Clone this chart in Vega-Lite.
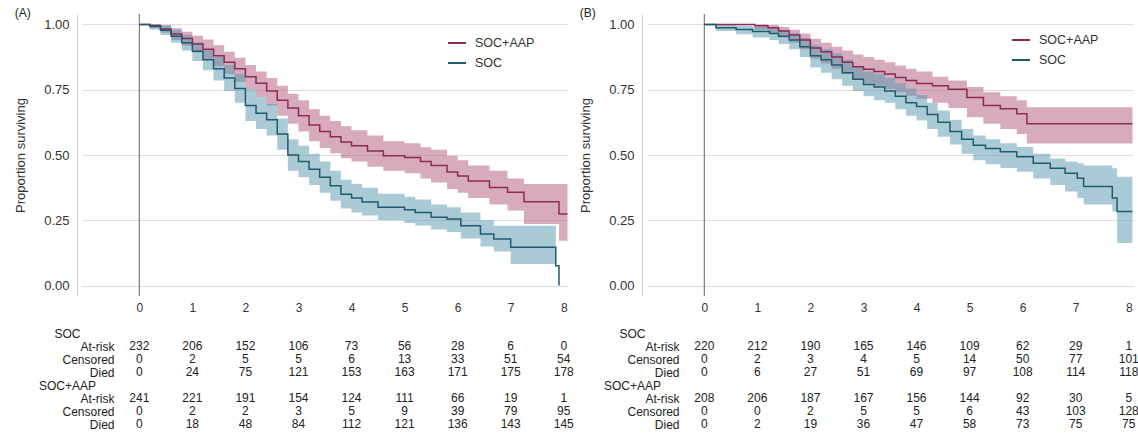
{
  "$schema": "https://vega.github.io/schema/vega-lite/v6.json",
  "background": "white",
  "padding": {"left": 14, "top": 6, "right": 0, "bottom": 0},
  "config": {"font": "Liberation Sans", "view": {"stroke": null}},
  "datasets": {
    "km": [
      {"p":"A","g":"SOC+AAP","t":0,"s":1,"lo":1,"hi":1},
      {"p":"A","g":"SOC+AAP","t":0.2,"s":0.996,"lo":0.988,"hi":1},
      {"p":"A","g":"SOC+AAP","t":0.4,"s":0.983,"lo":0.968,"hi":0.998},
      {"p":"A","g":"SOC+AAP","t":0.6,"s":0.963,"lo":0.94,"hi":0.985},
      {"p":"A","g":"SOC+AAP","t":0.8,"s":0.946,"lo":0.918,"hi":0.972},
      {"p":"A","g":"SOC+AAP","t":1.0,"s":0.925,"lo":0.893,"hi":0.957},
      {"p":"A","g":"SOC+AAP","t":1.2,"s":0.905,"lo":0.868,"hi":0.942},
      {"p":"A","g":"SOC+AAP","t":1.4,"s":0.88,"lo":0.84,"hi":0.92},
      {"p":"A","g":"SOC+AAP","t":1.6,"s":0.855,"lo":0.81,"hi":0.895},
      {"p":"A","g":"SOC+AAP","t":1.8,"s":0.83,"lo":0.78,"hi":0.872},
      {"p":"A","g":"SOC+AAP","t":2.0,"s":0.8,"lo":0.75,"hi":0.845},
      {"p":"A","g":"SOC+AAP","t":2.2,"s":0.775,"lo":0.72,"hi":0.82},
      {"p":"A","g":"SOC+AAP","t":2.4,"s":0.745,"lo":0.69,"hi":0.795},
      {"p":"A","g":"SOC+AAP","t":2.6,"s":0.71,"lo":0.65,"hi":0.765},
      {"p":"A","g":"SOC+AAP","t":2.8,"s":0.68,"lo":0.62,"hi":0.735},
      {"p":"A","g":"SOC+AAP","t":3.0,"s":0.65,"lo":0.59,"hi":0.71},
      {"p":"A","g":"SOC+AAP","t":3.2,"s":0.615,"lo":0.553,"hi":0.675},
      {"p":"A","g":"SOC+AAP","t":3.4,"s":0.59,"lo":0.527,"hi":0.65},
      {"p":"A","g":"SOC+AAP","t":3.6,"s":0.57,"lo":0.507,"hi":0.63},
      {"p":"A","g":"SOC+AAP","t":3.8,"s":0.55,"lo":0.488,"hi":0.61},
      {"p":"A","g":"SOC+AAP","t":4.0,"s":0.535,"lo":0.475,"hi":0.595},
      {"p":"A","g":"SOC+AAP","t":4.3,"s":0.515,"lo":0.455,"hi":0.575},
      {"p":"A","g":"SOC+AAP","t":4.6,"s":0.497,"lo":0.44,"hi":0.553},
      {"p":"A","g":"SOC+AAP","t":5.0,"s":0.49,"lo":0.43,"hi":0.545},
      {"p":"A","g":"SOC+AAP","t":5.3,"s":0.475,"lo":0.41,"hi":0.53},
      {"p":"A","g":"SOC+AAP","t":5.5,"s":0.46,"lo":0.395,"hi":0.52},
      {"p":"A","g":"SOC+AAP","t":5.8,"s":0.435,"lo":0.37,"hi":0.497},
      {"p":"A","g":"SOC+AAP","t":6.0,"s":0.42,"lo":0.355,"hi":0.48},
      {"p":"A","g":"SOC+AAP","t":6.2,"s":0.4,"lo":0.335,"hi":0.46},
      {"p":"A","g":"SOC+AAP","t":6.6,"s":0.376,"lo":0.31,"hi":0.44},
      {"p":"A","g":"SOC+AAP","t":6.94,"s":0.357,"lo":0.287,"hi":0.41},
      {"p":"A","g":"SOC+AAP","t":7.25,"s":0.321,"lo":0.236,"hi":0.389},
      {"p":"A","g":"SOC+AAP","t":7.91,"s":0.274,"lo":0.172,"hi":0.389},
      {"p":"A","g":"SOC+AAP","t":8.07,"s":0.274,"lo":0.172,"hi":0.389},

      {"p":"A","g":"SOC","t":0,"s":1,"lo":1,"hi":1},
      {"p":"A","g":"SOC","t":0.2,"s":0.992,"lo":0.98,"hi":1},
      {"p":"A","g":"SOC","t":0.4,"s":0.978,"lo":0.96,"hi":0.995},
      {"p":"A","g":"SOC","t":0.6,"s":0.955,"lo":0.93,"hi":0.98},
      {"p":"A","g":"SOC","t":0.8,"s":0.93,"lo":0.9,"hi":0.96},
      {"p":"A","g":"SOC","t":1.0,"s":0.897,"lo":0.86,"hi":0.932},
      {"p":"A","g":"SOC","t":1.2,"s":0.865,"lo":0.825,"hi":0.905},
      {"p":"A","g":"SOC","t":1.4,"s":0.83,"lo":0.785,"hi":0.875},
      {"p":"A","g":"SOC","t":1.6,"s":0.795,"lo":0.745,"hi":0.845},
      {"p":"A","g":"SOC","t":1.8,"s":0.755,"lo":0.7,"hi":0.81},
      {"p":"A","g":"SOC","t":2.0,"s":0.69,"lo":0.63,"hi":0.75},
      {"p":"A","g":"SOC","t":2.2,"s":0.66,"lo":0.6,"hi":0.72},
      {"p":"A","g":"SOC","t":2.4,"s":0.635,"lo":0.575,"hi":0.695},
      {"p":"A","g":"SOC","t":2.6,"s":0.58,"lo":0.52,"hi":0.64},
      {"p":"A","g":"SOC","t":2.8,"s":0.5,"lo":0.44,"hi":0.56},
      {"p":"A","g":"SOC","t":3.0,"s":0.475,"lo":0.415,"hi":0.535},
      {"p":"A","g":"SOC","t":3.2,"s":0.445,"lo":0.385,"hi":0.505},
      {"p":"A","g":"SOC","t":3.4,"s":0.415,"lo":0.355,"hi":0.475},
      {"p":"A","g":"SOC","t":3.6,"s":0.382,"lo":0.325,"hi":0.44},
      {"p":"A","g":"SOC","t":3.8,"s":0.35,"lo":0.295,"hi":0.405},
      {"p":"A","g":"SOC","t":4.0,"s":0.335,"lo":0.28,"hi":0.39},
      {"p":"A","g":"SOC","t":4.2,"s":0.32,"lo":0.268,"hi":0.375},
      {"p":"A","g":"SOC","t":4.5,"s":0.3,"lo":0.25,"hi":0.352},
      {"p":"A","g":"SOC","t":5.0,"s":0.29,"lo":0.24,"hi":0.34},
      {"p":"A","g":"SOC","t":5.2,"s":0.28,"lo":0.23,"hi":0.33},
      {"p":"A","g":"SOC","t":5.5,"s":0.262,"lo":0.215,"hi":0.31},
      {"p":"A","g":"SOC","t":5.8,"s":0.255,"lo":0.205,"hi":0.3},
      {"p":"A","g":"SOC","t":6.06,"s":0.229,"lo":0.18,"hi":0.28},
      {"p":"A","g":"SOC","t":6.43,"s":0.197,"lo":0.15,"hi":0.25},
      {"p":"A","g":"SOC","t":6.68,"s":0.178,"lo":0.13,"hi":0.229},
      {"p":"A","g":"SOC","t":7.0,"s":0.147,"lo":0.083,"hi":0.229},
      {"p":"A","g":"SOC","t":7.85,"s":0.076,"lo":0.083,"hi":0.229},
      {"p":"A","g":"SOC","t":7.91,"s":0,"lo":null,"hi":null},

      {"p":"B","g":"SOC+AAP","t":0,"s":1,"lo":1,"hi":1},
      {"p":"B","g":"SOC+AAP","t":0.95,"s":0.995,"lo":0.98,"hi":1},
      {"p":"B","g":"SOC+AAP","t":1.2,"s":0.987,"lo":0.968,"hi":0.998},
      {"p":"B","g":"SOC+AAP","t":1.4,"s":0.975,"lo":0.95,"hi":0.99},
      {"p":"B","g":"SOC+AAP","t":1.6,"s":0.96,"lo":0.93,"hi":0.98},
      {"p":"B","g":"SOC+AAP","t":1.8,"s":0.94,"lo":0.905,"hi":0.965},
      {"p":"B","g":"SOC+AAP","t":2.0,"s":0.91,"lo":0.87,"hi":0.945},
      {"p":"B","g":"SOC+AAP","t":2.2,"s":0.895,"lo":0.85,"hi":0.93},
      {"p":"B","g":"SOC+AAP","t":2.4,"s":0.875,"lo":0.83,"hi":0.915},
      {"p":"B","g":"SOC+AAP","t":2.6,"s":0.855,"lo":0.81,"hi":0.9},
      {"p":"B","g":"SOC+AAP","t":2.8,"s":0.838,"lo":0.79,"hi":0.885},
      {"p":"B","g":"SOC+AAP","t":3.0,"s":0.828,"lo":0.775,"hi":0.875},
      {"p":"B","g":"SOC+AAP","t":3.2,"s":0.82,"lo":0.765,"hi":0.865},
      {"p":"B","g":"SOC+AAP","t":3.4,"s":0.81,"lo":0.753,"hi":0.855},
      {"p":"B","g":"SOC+AAP","t":3.6,"s":0.797,"lo":0.74,"hi":0.843},
      {"p":"B","g":"SOC+AAP","t":3.8,"s":0.785,"lo":0.727,"hi":0.83},
      {"p":"B","g":"SOC+AAP","t":4.0,"s":0.774,"lo":0.715,"hi":0.82},
      {"p":"B","g":"SOC+AAP","t":4.3,"s":0.765,"lo":0.7,"hi":0.8},
      {"p":"B","g":"SOC+AAP","t":4.6,"s":0.752,"lo":0.68,"hi":0.785},
      {"p":"B","g":"SOC+AAP","t":4.95,"s":0.72,"lo":0.645,"hi":0.76},
      {"p":"B","g":"SOC+AAP","t":5.26,"s":0.69,"lo":0.62,"hi":0.74},
      {"p":"B","g":"SOC+AAP","t":5.58,"s":0.677,"lo":0.6,"hi":0.725},
      {"p":"B","g":"SOC+AAP","t":5.89,"s":0.658,"lo":0.58,"hi":0.71},
      {"p":"B","g":"SOC+AAP","t":6.08,"s":0.62,"lo":0.544,"hi":0.683},
      {"p":"B","g":"SOC+AAP","t":8.07,"s":0.62,"lo":0.544,"hi":0.683},

      {"p":"B","g":"SOC","t":0,"s":1,"lo":1,"hi":1},
      {"p":"B","g":"SOC","t":0.22,"s":0.987,"lo":0.975,"hi":1},
      {"p":"B","g":"SOC","t":0.6,"s":0.981,"lo":0.962,"hi":0.995},
      {"p":"B","g":"SOC","t":0.91,"s":0.973,"lo":0.95,"hi":0.99},
      {"p":"B","g":"SOC","t":1.23,"s":0.965,"lo":0.94,"hi":0.987},
      {"p":"B","g":"SOC","t":1.4,"s":0.955,"lo":0.925,"hi":0.98},
      {"p":"B","g":"SOC","t":1.6,"s":0.94,"lo":0.905,"hi":0.967},
      {"p":"B","g":"SOC","t":1.8,"s":0.915,"lo":0.875,"hi":0.948},
      {"p":"B","g":"SOC","t":2.0,"s":0.88,"lo":0.835,"hi":0.92},
      {"p":"B","g":"SOC","t":2.2,"s":0.865,"lo":0.815,"hi":0.905},
      {"p":"B","g":"SOC","t":2.4,"s":0.845,"lo":0.79,"hi":0.89},
      {"p":"B","g":"SOC","t":2.6,"s":0.815,"lo":0.765,"hi":0.865},
      {"p":"B","g":"SOC","t":2.8,"s":0.79,"lo":0.745,"hi":0.84},
      {"p":"B","g":"SOC","t":3.0,"s":0.77,"lo":0.725,"hi":0.82},
      {"p":"B","g":"SOC","t":3.2,"s":0.76,"lo":0.71,"hi":0.81},
      {"p":"B","g":"SOC","t":3.4,"s":0.745,"lo":0.7,"hi":0.795},
      {"p":"B","g":"SOC","t":3.6,"s":0.725,"lo":0.675,"hi":0.775},
      {"p":"B","g":"SOC","t":3.8,"s":0.7,"lo":0.65,"hi":0.755},
      {"p":"B","g":"SOC","t":4.0,"s":0.686,"lo":0.632,"hi":0.73},
      {"p":"B","g":"SOC","t":4.2,"s":0.655,"lo":0.6,"hi":0.7},
      {"p":"B","g":"SOC","t":4.4,"s":0.625,"lo":0.57,"hi":0.67},
      {"p":"B","g":"SOC","t":4.63,"s":0.59,"lo":0.54,"hi":0.635},
      {"p":"B","g":"SOC","t":4.85,"s":0.56,"lo":0.505,"hi":0.6},
      {"p":"B","g":"SOC","t":5.07,"s":0.537,"lo":0.48,"hi":0.575},
      {"p":"B","g":"SOC","t":5.3,"s":0.525,"lo":0.465,"hi":0.56},
      {"p":"B","g":"SOC","t":5.58,"s":0.512,"lo":0.45,"hi":0.545},
      {"p":"B","g":"SOC","t":5.89,"s":0.493,"lo":0.436,"hi":0.531},
      {"p":"B","g":"SOC","t":6.2,"s":0.468,"lo":0.41,"hi":0.505},
      {"p":"B","g":"SOC","t":6.52,"s":0.449,"lo":0.385,"hi":0.487},
      {"p":"B","g":"SOC","t":6.8,"s":0.43,"lo":0.36,"hi":0.475},
      {"p":"B","g":"SOC","t":7.03,"s":0.411,"lo":0.335,"hi":0.468},
      {"p":"B","g":"SOC","t":7.15,"s":0.379,"lo":0.31,"hi":0.46},
      {"p":"B","g":"SOC","t":7.69,"s":0.335,"lo":0.284,"hi":0.449},
      {"p":"B","g":"SOC","t":7.78,"s":0.284,"lo":0.163,"hi":0.417},
      {"p":"B","g":"SOC","t":8.07,"s":0.284,"lo":0.163,"hi":0.417}
    ],
    "risk": [
      {"p":"A","r":"SOC|At-risk","t":0,"n":232},{"p":"A","r":"SOC|At-risk","t":1,"n":206},{"p":"A","r":"SOC|At-risk","t":2,"n":152},{"p":"A","r":"SOC|At-risk","t":3,"n":106},{"p":"A","r":"SOC|At-risk","t":4,"n":73},{"p":"A","r":"SOC|At-risk","t":5,"n":56},{"p":"A","r":"SOC|At-risk","t":6,"n":28},{"p":"A","r":"SOC|At-risk","t":7,"n":6},{"p":"A","r":"SOC|At-risk","t":8,"n":0},
      {"p":"A","r":"SOC|Censored","t":0,"n":0},{"p":"A","r":"SOC|Censored","t":1,"n":2},{"p":"A","r":"SOC|Censored","t":2,"n":5},{"p":"A","r":"SOC|Censored","t":3,"n":5},{"p":"A","r":"SOC|Censored","t":4,"n":6},{"p":"A","r":"SOC|Censored","t":5,"n":13},{"p":"A","r":"SOC|Censored","t":6,"n":33},{"p":"A","r":"SOC|Censored","t":7,"n":51},{"p":"A","r":"SOC|Censored","t":8,"n":54},
      {"p":"A","r":"SOC|Died","t":0,"n":0},{"p":"A","r":"SOC|Died","t":1,"n":24},{"p":"A","r":"SOC|Died","t":2,"n":75},{"p":"A","r":"SOC|Died","t":3,"n":121},{"p":"A","r":"SOC|Died","t":4,"n":153},{"p":"A","r":"SOC|Died","t":5,"n":163},{"p":"A","r":"SOC|Died","t":6,"n":171},{"p":"A","r":"SOC|Died","t":7,"n":175},{"p":"A","r":"SOC|Died","t":8,"n":178},
      {"p":"A","r":"SOC+AAP|At-risk","t":0,"n":241},{"p":"A","r":"SOC+AAP|At-risk","t":1,"n":221},{"p":"A","r":"SOC+AAP|At-risk","t":2,"n":191},{"p":"A","r":"SOC+AAP|At-risk","t":3,"n":154},{"p":"A","r":"SOC+AAP|At-risk","t":4,"n":124},{"p":"A","r":"SOC+AAP|At-risk","t":5,"n":111},{"p":"A","r":"SOC+AAP|At-risk","t":6,"n":66},{"p":"A","r":"SOC+AAP|At-risk","t":7,"n":19},{"p":"A","r":"SOC+AAP|At-risk","t":8,"n":1},
      {"p":"A","r":"SOC+AAP|Censored","t":0,"n":0},{"p":"A","r":"SOC+AAP|Censored","t":1,"n":2},{"p":"A","r":"SOC+AAP|Censored","t":2,"n":2},{"p":"A","r":"SOC+AAP|Censored","t":3,"n":3},{"p":"A","r":"SOC+AAP|Censored","t":4,"n":5},{"p":"A","r":"SOC+AAP|Censored","t":5,"n":9},{"p":"A","r":"SOC+AAP|Censored","t":6,"n":39},{"p":"A","r":"SOC+AAP|Censored","t":7,"n":79},{"p":"A","r":"SOC+AAP|Censored","t":8,"n":95},
      {"p":"A","r":"SOC+AAP|Died","t":0,"n":0},{"p":"A","r":"SOC+AAP|Died","t":1,"n":18},{"p":"A","r":"SOC+AAP|Died","t":2,"n":48},{"p":"A","r":"SOC+AAP|Died","t":3,"n":84},{"p":"A","r":"SOC+AAP|Died","t":4,"n":112},{"p":"A","r":"SOC+AAP|Died","t":5,"n":121},{"p":"A","r":"SOC+AAP|Died","t":6,"n":136},{"p":"A","r":"SOC+AAP|Died","t":7,"n":143},{"p":"A","r":"SOC+AAP|Died","t":8,"n":145},
      {"p":"B","r":"SOC|At-risk","t":0,"n":220},{"p":"B","r":"SOC|At-risk","t":1,"n":212},{"p":"B","r":"SOC|At-risk","t":2,"n":190},{"p":"B","r":"SOC|At-risk","t":3,"n":165},{"p":"B","r":"SOC|At-risk","t":4,"n":146},{"p":"B","r":"SOC|At-risk","t":5,"n":109},{"p":"B","r":"SOC|At-risk","t":6,"n":62},{"p":"B","r":"SOC|At-risk","t":7,"n":29},{"p":"B","r":"SOC|At-risk","t":8,"n":1},
      {"p":"B","r":"SOC|Censored","t":0,"n":0},{"p":"B","r":"SOC|Censored","t":1,"n":2},{"p":"B","r":"SOC|Censored","t":2,"n":3},{"p":"B","r":"SOC|Censored","t":3,"n":4},{"p":"B","r":"SOC|Censored","t":4,"n":5},{"p":"B","r":"SOC|Censored","t":5,"n":14},{"p":"B","r":"SOC|Censored","t":6,"n":50},{"p":"B","r":"SOC|Censored","t":7,"n":77},{"p":"B","r":"SOC|Censored","t":8,"n":101},
      {"p":"B","r":"SOC|Died","t":0,"n":0},{"p":"B","r":"SOC|Died","t":1,"n":6},{"p":"B","r":"SOC|Died","t":2,"n":27},{"p":"B","r":"SOC|Died","t":3,"n":51},{"p":"B","r":"SOC|Died","t":4,"n":69},{"p":"B","r":"SOC|Died","t":5,"n":97},{"p":"B","r":"SOC|Died","t":6,"n":108},{"p":"B","r":"SOC|Died","t":7,"n":114},{"p":"B","r":"SOC|Died","t":8,"n":118},
      {"p":"B","r":"SOC+AAP|At-risk","t":0,"n":208},{"p":"B","r":"SOC+AAP|At-risk","t":1,"n":206},{"p":"B","r":"SOC+AAP|At-risk","t":2,"n":187},{"p":"B","r":"SOC+AAP|At-risk","t":3,"n":167},{"p":"B","r":"SOC+AAP|At-risk","t":4,"n":156},{"p":"B","r":"SOC+AAP|At-risk","t":5,"n":144},{"p":"B","r":"SOC+AAP|At-risk","t":6,"n":92},{"p":"B","r":"SOC+AAP|At-risk","t":7,"n":30},{"p":"B","r":"SOC+AAP|At-risk","t":8,"n":5},
      {"p":"B","r":"SOC+AAP|Censored","t":0,"n":0},{"p":"B","r":"SOC+AAP|Censored","t":1,"n":0},{"p":"B","r":"SOC+AAP|Censored","t":2,"n":2},{"p":"B","r":"SOC+AAP|Censored","t":3,"n":5},{"p":"B","r":"SOC+AAP|Censored","t":4,"n":5},{"p":"B","r":"SOC+AAP|Censored","t":5,"n":6},{"p":"B","r":"SOC+AAP|Censored","t":6,"n":43},{"p":"B","r":"SOC+AAP|Censored","t":7,"n":103},{"p":"B","r":"SOC+AAP|Censored","t":8,"n":128},
      {"p":"B","r":"SOC+AAP|Died","t":0,"n":0},{"p":"B","r":"SOC+AAP|Died","t":1,"n":2},{"p":"B","r":"SOC+AAP|Died","t":2,"n":19},{"p":"B","r":"SOC+AAP|Died","t":3,"n":36},{"p":"B","r":"SOC+AAP|Died","t":4,"n":47},{"p":"B","r":"SOC+AAP|Died","t":5,"n":58},{"p":"B","r":"SOC+AAP|Died","t":6,"n":73},{"p":"B","r":"SOC+AAP|Died","t":7,"n":75},{"p":"B","r":"SOC+AAP|Died","t":8,"n":75}
    ]
  },
  "resolve": {"scale": {"color": "independent", "fill": "independent"}},
  "spacing": 5,
  "hconcat": [
    {
      "spacing": 13.5,
      "resolve": {"scale": {"color": "independent", "fill": "independent"}},
      "vconcat": [
        {
          "title": {"text": "(A)", "anchor": "start", "frame": "bounds", "fontSize": 12, "fontWeight": "normal", "color": "#222", "offset": -6},
          "width": 486, "height": 282,
          "layer": [
            {
              "data": {"values": [{"t": 0}]},
              "mark": {"type": "rule", "color": "#666", "strokeWidth": 1},
              "encoding": {"x": {"field": "t", "type": "quantitative", "scale": {"domain": [-1.08, 8.08], "nice": false, "zero": false},
                "axis": {"values": [0,1,2,3,4,5,6,7,8], "domain": false, "ticks": false, "grid": false, "labelFontSize": 12, "labelColor": "#333", "labelPadding": 6, "title": null}}}
            },
            {
              "data": {"name": "km"},
              "transform": [{"filter": "datum.p == 'A'"}],
              "mark": {"type": "area", "interpolate": "step-after", "opacity": 0.5},
              "encoding": {
                "x": {"field": "t", "type": "quantitative", "scale": {"domain": [-1.08, 8.08], "nice": false, "zero": false},
                  "axis": {"values": [0,1,2,3,4,5,6,7,8], "domain": false, "ticks": false, "grid": false, "labelFontSize": 12, "labelColor": "#333", "labelPadding": 6, "title": null}},
                "y": {"field": "lo", "type": "quantitative", "scale": {"domain": [-0.04, 1.04], "nice": false, "zero": false},
                  "axis": {"values": [0,0.25,0.5,0.75,1], "format": ".2f", "grid": true, "gridColor": "#dedede", "domain": true, "domainColor": "#d0d0d0", "ticks": false, "offset": 5, "labelFontSize": 13, "labelColor": "#333", "labelPadding": 8, "title": "Proportion surviving", "titleFontSize": 13, "titleFontWeight": "normal", "titleColor": "#333", "titlePadding": 16}},
                "y2": {"field": "hi"},
                "fill": {"field": "g", "type": "nominal", "scale": {"domain": ["SOC", "SOC+AAP"], "range": ["#5597ab", "#b1557b"]}, "legend": null}
              }
            },
            {
              "data": {"name": "km"},
              "transform": [{"filter": "datum.p == 'A'"}],
              "mark": {"type": "line", "interpolate": "step-after", "strokeWidth": 1.5},
              "encoding": {
                "x": {"field": "t", "type": "quantitative", "scale": {"domain": [-1.08, 8.08], "nice": false, "zero": false},
                  "axis": {"values": [0,1,2,3,4,5,6,7,8], "domain": false, "ticks": false, "grid": false, "labelFontSize": 12, "labelColor": "#333", "labelPadding": 6, "title": null}},
                "y": {"field": "s", "type": "quantitative", "scale": {"domain": [-0.04, 1.04], "nice": false, "zero": false},
                  "axis": {"values": [0,0.25,0.5,0.75,1], "format": ".2f", "grid": true, "gridColor": "#dedede", "domain": true, "domainColor": "#d0d0d0", "ticks": false, "offset": 5, "labelFontSize": 13, "labelColor": "#333", "labelPadding": 8, "title": "Proportion surviving", "titleFontSize": 13, "titleFontWeight": "normal", "titleColor": "#333", "titlePadding": 16}},
                "color": {"field": "g", "type": "nominal", "scale": {"domain": ["SOC+AAP", "SOC"], "range": ["#8a2b58", "#1e5b6e"]},
                  "legend": {"title": null, "orient": "none", "legendX": 365, "legendY": 19, "symbolType": "stroke", "symbolSize": 324, "symbolStrokeWidth": 2, "labelFontSize": 12.5, "labelColor": "#333", "labelOffset": 8, "rowPadding": 3}}
              }
            }
          ]
        },
        {
          "width": 486, "height": 104,
          "resolve": {"axis": {"y": "independent"}},
          "layer": [
            {
              "data": {"name": "risk"},
              "transform": [{"filter": "datum.p == 'A'"}],
              "mark": {"type": "text", "fontSize": 12, "color": "#222", "baseline": "middle"},
              "encoding": {
                "x": {"field": "t", "type": "quantitative", "scale": {"domain": [-1.08, 8.08], "nice": false, "zero": false}, "axis": null},
                "y": {"field": "r", "type": "nominal",
                  "scale": {"type": "point", "padding": 0.5, "domain": ["SOC", "SOC|At-risk", "SOC|Censored", "SOC|Died", "SOC+AAP", "SOC+AAP|At-risk", "SOC+AAP|Censored", "SOC+AAP|Died"]},
                  "axis": {"orient": "left", "title": null, "domain": false, "ticks": false, "grid": false, "labelFontSize": 12, "labelColor": "#222", "labelOverlap": false,
                    "labelExpr": "indexof(datum.value, '|') >= 0 ? split(datum.value, '|')[1] : ''",
                    "labelAlign": "right", "labelPadding": -32}},
                "text": {"field": "n", "type": "nominal"}
              }
            },
            {
              "data": {"name": "risk"},
              "transform": [{"filter": "datum.p == 'A' && datum.t < 0"}],
              "mark": {"type": "text", "fontSize": 12, "color": "#222", "baseline": "middle"},
              "encoding": {
                "x": {"field": "t", "type": "quantitative", "scale": {"domain": [-1.08, 8.08], "nice": false, "zero": false}, "axis": null},
                "y": {"field": "r", "type": "nominal",
                  "scale": {"type": "point", "padding": 0.5, "domain": ["SOC", "SOC|At-risk", "SOC|Censored", "SOC|Died", "SOC+AAP", "SOC+AAP|At-risk", "SOC+AAP|Censored", "SOC+AAP|Died"]},
                  "axis": {"orient": "left", "title": null, "domain": false, "ticks": false, "grid": false, "labelFontSize": 12, "labelColor": "#222", "labelOverlap": false,
                    "labelExpr": "indexof(datum.value, '|') < 0 ? datum.value : ''",
                    "labelAlign": "center", "labelPadding": 15}},
                "text": {"field": "n", "type": "nominal"}
              }
            }
          ]
        }
      ]
    },
    {
      "spacing": 13.5,
      "resolve": {"scale": {"color": "independent", "fill": "independent"}},
      "vconcat": [
        {
          "title": {"text": "(B)", "anchor": "start", "frame": "bounds", "fontSize": 12, "fontWeight": "normal", "color": "#222", "offset": -6},
          "width": 486, "height": 282,
          "layer": [
            {
              "data": {"values": [{"t": 0}]},
              "mark": {"type": "rule", "color": "#666", "strokeWidth": 1},
              "encoding": {"x": {"field": "t", "type": "quantitative", "scale": {"domain": [-1.08, 8.08], "nice": false, "zero": false},
                "axis": {"values": [0,1,2,3,4,5,6,7,8], "domain": false, "ticks": false, "grid": false, "labelFontSize": 12, "labelColor": "#333", "labelPadding": 6, "title": null}}}
            },
            {
              "data": {"name": "km"},
              "transform": [{"filter": "datum.p == 'B'"}],
              "mark": {"type": "area", "interpolate": "step-after", "opacity": 0.5},
              "encoding": {
                "x": {"field": "t", "type": "quantitative", "scale": {"domain": [-1.08, 8.08], "nice": false, "zero": false},
                  "axis": {"values": [0,1,2,3,4,5,6,7,8], "domain": false, "ticks": false, "grid": false, "labelFontSize": 12, "labelColor": "#333", "labelPadding": 6, "title": null}},
                "y": {"field": "lo", "type": "quantitative", "scale": {"domain": [-0.04, 1.04], "nice": false, "zero": false},
                  "axis": {"values": [0,0.25,0.5,0.75,1], "format": ".2f", "grid": true, "gridColor": "#dedede", "domain": true, "domainColor": "#d0d0d0", "ticks": false, "offset": 5, "labelFontSize": 13, "labelColor": "#333", "labelPadding": 8, "title": "Proportion surviving", "titleFontSize": 13, "titleFontWeight": "normal", "titleColor": "#333", "titlePadding": 16}},
                "y2": {"field": "hi"},
                "fill": {"field": "g", "type": "nominal", "scale": {"domain": ["SOC", "SOC+AAP"], "range": ["#5597ab", "#b1557b"]}, "legend": null}
              }
            },
            {
              "data": {"name": "km"},
              "transform": [{"filter": "datum.p == 'B'"}],
              "mark": {"type": "line", "interpolate": "step-after", "strokeWidth": 1.5},
              "encoding": {
                "x": {"field": "t", "type": "quantitative", "scale": {"domain": [-1.08, 8.08], "nice": false, "zero": false},
                  "axis": {"values": [0,1,2,3,4,5,6,7,8], "domain": false, "ticks": false, "grid": false, "labelFontSize": 12, "labelColor": "#333", "labelPadding": 6, "title": null}},
                "y": {"field": "s", "type": "quantitative", "scale": {"domain": [-0.04, 1.04], "nice": false, "zero": false},
                  "axis": {"values": [0,0.25,0.5,0.75,1], "format": ".2f", "grid": true, "gridColor": "#dedede", "domain": true, "domainColor": "#d0d0d0", "ticks": false, "offset": 5, "labelFontSize": 13, "labelColor": "#333", "labelPadding": 8, "title": "Proportion surviving", "titleFontSize": 13, "titleFontWeight": "normal", "titleColor": "#333", "titlePadding": 16}},
                "color": {"field": "g", "type": "nominal", "scale": {"domain": ["SOC+AAP", "SOC"], "range": ["#8a2b58", "#1e5b6e"]},
                  "legend": {"title": null, "orient": "none", "legendX": 364, "legendY": 16, "symbolType": "stroke", "symbolSize": 324, "symbolStrokeWidth": 2, "labelFontSize": 12.5, "labelColor": "#333", "labelOffset": 8, "rowPadding": 3}}
              }
            }
          ]
        },
        {
          "width": 486, "height": 104,
          "resolve": {"axis": {"y": "independent"}},
          "layer": [
            {
              "data": {"name": "risk"},
              "transform": [{"filter": "datum.p == 'B'"}],
              "mark": {"type": "text", "fontSize": 12, "color": "#222", "baseline": "middle"},
              "encoding": {
                "x": {"field": "t", "type": "quantitative", "scale": {"domain": [-1.08, 8.08], "nice": false, "zero": false}, "axis": null},
                "y": {"field": "r", "type": "nominal",
                  "scale": {"type": "point", "padding": 0.5, "domain": ["SOC", "SOC|At-risk", "SOC|Censored", "SOC|Died", "SOC+AAP", "SOC+AAP|At-risk", "SOC+AAP|Censored", "SOC+AAP|Died"]},
                  "axis": {"orient": "left", "title": null, "domain": false, "ticks": false, "grid": false, "labelFontSize": 12, "labelColor": "#222", "labelOverlap": false,
                    "labelExpr": "indexof(datum.value, '|') >= 0 ? split(datum.value, '|')[1] : ''",
                    "labelAlign": "right", "labelPadding": -32}},
                "text": {"field": "n", "type": "nominal"}
              }
            },
            {
              "data": {"name": "risk"},
              "transform": [{"filter": "datum.p == 'B' && datum.t < 0"}],
              "mark": {"type": "text", "fontSize": 12, "color": "#222", "baseline": "middle"},
              "encoding": {
                "x": {"field": "t", "type": "quantitative", "scale": {"domain": [-1.08, 8.08], "nice": false, "zero": false}, "axis": null},
                "y": {"field": "r", "type": "nominal",
                  "scale": {"type": "point", "padding": 0.5, "domain": ["SOC", "SOC|At-risk", "SOC|Censored", "SOC|Died", "SOC+AAP", "SOC+AAP|At-risk", "SOC+AAP|Censored", "SOC+AAP|Died"]},
                  "axis": {"orient": "left", "title": null, "domain": false, "ticks": false, "grid": false, "labelFontSize": 12, "labelColor": "#222", "labelOverlap": false,
                    "labelExpr": "indexof(datum.value, '|') < 0 ? datum.value : ''",
                    "labelAlign": "center", "labelPadding": 15}},
                "text": {"field": "n", "type": "nominal"}
              }
            }
          ]
        }
      ]
    }
  ]
}
